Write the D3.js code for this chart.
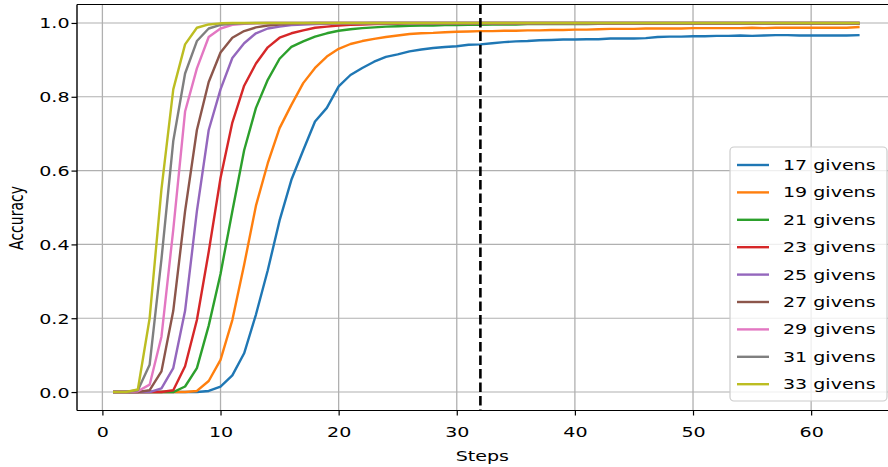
<!DOCTYPE html>
<html>
<head>
<meta charset="utf-8">
<script src="https://cdn.jsdelivr.net/npm/d3@7"></script>
<style>
  html, body { margin: 0; padding: 0; background: #fff; }
  svg { display: block; font-family: "DejaVu Sans", sans-serif; }
</style>
</head>
<body>
<svg id="chart" width="888" height="467"></svg>
<script>
// ---------- data ----------
const steps = d3.range(1, 65);
const seriesNames = ["17 givens", "19 givens", "21 givens", "23 givens", "25 givens",
                     "27 givens", "29 givens", "31 givens", "33 givens"];
const g17 = [0,0,0,0,0,0,0,0,0.003,0.015,0.045,0.105,0.21,0.33,0.465,0.575,0.655,0.733,0.77,0.828,
  0.859,0.878,0.895,0.908,0.915,0.923,0.928,0.932,0.935,0.937,0.941,0.942,0.945,0.948,0.950,0.951,0.953,0.954,0.955,0.955,
  0.956,0.956,0.958,0.958,0.958,0.959,0.962,0.963,0.963,0.964,0.964,0.965,0.965,0.966,0.965,0.966,0.967,0.967,0.966,0.966,
  0.966,0.966,0.966,0.967];
const g19 = [0,0,0,0,0,0,0,0.003,0.03,0.087,0.195,0.345,0.505,0.62,0.715,0.778,0.837,0.878,0.909,0.93,
  0.943,0.951,0.957,0.962,0.966,0.97,0.972,0.973,0.975,0.976,0.977,0.978,0.978,0.979,0.979,0.98,0.98,0.981,0.981,0.982,
  0.982,0.983,0.984,0.984,0.984,0.985,0.985,0.985,0.985,0.986,0.986,0.986,0.986,0.986,0.987,0.986,0.987,0.987,0.987,0.987,
  0.987,0.987,0.987,0.989];
const g21 = [0,0,0,0,0,0,0.015,0.065,0.18,0.32,0.49,0.655,0.77,0.846,0.903,0.935,0.95,0.963,0.972,0.979,
  0.983,0.986,0.988,0.99,0.991,0.992,0.993,0.993,0.994,0.994,0.995,0.995,0.996,0.996,0.996,0.997,0.997,0.997,0.997,0.997,
  0.997,0.998,0.998,0.998,0.998,0.998,0.998,0.998,0.998,0.998,0.998,0.998,0.998,0.998,0.998,0.998,0.998,0.998,0.998,0.998,
  0.998,0.998,0.998,0.998];
const g23 = [0,0,0,0,0,0.005,0.07,0.195,0.38,0.58,0.73,0.83,0.89,0.934,0.96,0.972,0.98,0.987,0.99,0.993,
  0.995,0.996,0.997,0.998,0.998,0.999,0.999,0.999,0.999,0.999,0.999,0.999,0.999,0.999,0.999,0.999,0.999,0.999,0.999,0.999,
  0.999,0.999,0.999,0.999,0.999,0.999,0.999,0.999,0.999,0.999,0.999,0.999,0.999,0.999,0.999,0.999,0.999,0.999,0.999,0.999,
  0.999,0.999,0.999,0.999];
const g25 = [0,0,0,0,0.01,0.065,0.22,0.49,0.71,0.82,0.905,0.945,0.972,0.985,0.99,0.994,0.996,0.997,0.998,0.999,
  0.999,0.999,1,1,1,1,1,1,1,1,1,1,1,1,1,1,1,1,1,1,
  1,1,1,1,1,1,1,1,1,1,1,1,1,1,1,1,1,1,1,1,1,1,1,1];
const g27 = [0,0,0,0.005,0.056,0.22,0.49,0.71,0.84,0.92,0.96,0.978,0.988,0.993,0.996,0.998,0.999,1,1,1,
  1,1,1,1,1,1,1,1,1,1,1,1,1,1,1,1,1,1,1,1,
  1,1,1,1,1,1,1,1,1,1,1,1,1,1,1,1,1,1,1,1,1,1,1,1];
const g29 = [0,0,0.002,0.02,0.15,0.44,0.76,0.877,0.962,0.985,0.995,0.998,0.999,1,1,1,1,1,1,1,
  1,1,1,1,1,1,1,1,1,1,1,1,1,1,1,1,1,1,1,1,
  1,1,1,1,1,1,1,1,1,1,1,1,1,1,1,1,1,1,1,1,1,1,1,1];
const g31 = [0,0,0.005,0.074,0.36,0.68,0.863,0.951,0.985,0.995,0.998,0.999,1,1,1,1,1,1,1,1,
  1,1,1,1,1,1,1,1,1,1,1,1,1,1,1,1,1,1,1,1,
  1,1,1,1,1,1,1,1,1,1,1,1,1,1,1,1,1,1,1,1,1,1,1,1];
const g33 = [0,0,0.007,0.2,0.55,0.82,0.942,0.987,0.996,0.999,1,1,1,1,1,1,1,1,1,1,
  1,1,1,1,1,1,1,1,1,1,1,1,1,1,1,1,1,1,1,1,
  1,1,1,1,1,1,1,1,1,1,1,1,1,1,1,1,1,1,1,1,1,1,1,1];
const seriesValues = [g17, g19, g21, g23, g25, g27, g29, g31, g33];
const colors = ["#1f77b4","#ff7f0e","#2ca02c","#d62728","#9467bd","#8c564b","#e377c2","#7f7f7f","#bcbd22"];
const xTicks = [0, 10, 20, 30, 40, 50, 60];
const yTicks = [0.0, 0.2, 0.4, 0.6, 0.8, 1.0];
const markerStep = 32;
const xLabel = "Steps";
const yLabel = "Accuracy";

// ---------- layout ----------
const SX = 1.36;         // horizontal text stretch of the reference
const FS = 14;
const pL = 77, pR = 895.6, pT = 4.5, pB = 410.5;
const svg = d3.select("#chart");

const x = d3.scaleLinear().domain([-2.15, 67.15]).range([pL, pR]);
const y = d3.scaleLinear().domain([-0.05, 1.05]).range([pB, pT]);

// grid
const grid = svg.append("g");
grid.selectAll(".vg").data(xTicks).enter().append("line")
  .attr("x1", d => x(d)).attr("x2", d => x(d)).attr("y1", pT).attr("y2", pB)
  .attr("stroke", "#b0b0b0").attr("stroke-width", 1.3);
grid.selectAll(".hg").data(yTicks).enter().append("line")
  .attr("x1", pL).attr("x2", pR).attr("y1", d => y(d)).attr("y2", d => y(d))
  .attr("stroke", "#b0b0b0").attr("stroke-width", 1.1);

// lines
const line = d3.line().x((d, i) => x(steps[i])).y(d => y(d));
svg.append("g").selectAll("path").data(seriesValues).enter().append("path")
  .attr("d", d => line(d))
  .attr("fill", "none")
  .attr("stroke", (d, i) => colors[i])
  .attr("stroke-width", 2.4)
  .attr("stroke-linejoin", "round")
  .attr("stroke-linecap", "square");

// dashed vertical line
svg.append("line")
  .attr("x1", x(markerStep)).attr("x2", x(markerStep)).attr("y1", pT).attr("y2", pB)
  .attr("stroke", "#000").attr("stroke-width", 2.6).attr("stroke-dasharray", "9.5,4");

// axes
const xAxis = svg.append("g").attr("transform", `translate(0,${pB})`)
  .call(d3.axisBottom(x).tickValues(xTicks).tickFormat(d3.format("d")).tickSizeOuter(0).tickSize(5));
const yAxis = svg.append("g").attr("transform", `translate(${pL},0)`)
  .call(d3.axisLeft(y).tickValues(yTicks).tickFormat(d3.format(".1f")).tickSizeOuter(0).tickSize(5.5));
[xAxis, yAxis].forEach(a => {
  a.select(".domain").remove();
  a.selectAll(".tick line").attr("stroke", "#000").attr("stroke-width", 1.2);
  a.selectAll("text").attr("fill", "#000").style("font-size", FS + "px")
    .style("font-family", "'DejaVu Sans', sans-serif");
});
xAxis.selectAll("text").attr("y", 0).attr("dy", 0)
  .attr("transform", `translate(0,26.5) scale(${SX},1)`);
yAxis.selectAll("text").attr("x", 0).attr("dy", 0)
  .attr("transform", `translate(-7.5,5) scale(${SX},1)`);

// spines
svg.append("line").attr("x1", pL).attr("x2", pL).attr("y1", pT).attr("y2", pB)
  .attr("stroke", "#000").attr("stroke-width", 1.4);
svg.append("line").attr("x1", pL).attr("x2", pR).attr("y1", pB).attr("y2", pB)
  .attr("stroke", "#000").attr("stroke-width", 1.2);
svg.append("line").attr("x1", pL).attr("x2", pR).attr("y1", pT).attr("y2", pT)
  .attr("stroke", "#000").attr("stroke-width", 1.2);
svg.append("line").attr("x1", pR).attr("x2", pR).attr("y1", pT).attr("y2", pB)
  .attr("stroke", "#000").attr("stroke-width", 1.4);

// axis labels
svg.append("text").text(xLabel)
  .attr("transform", `translate(${(pL + pR) / 2 - 4},461) scale(${SX},1)`)
  .attr("text-anchor", "middle").style("font-size", FS + "px");
svg.append("text").text(yLabel)
  .attr("transform", `translate(23,218) rotate(-90) scale(1,${SX})`)
  .attr("text-anchor", "middle").style("font-size", FS + "px");

// legend
const lg = svg.append("g");
const lgX = 730, lgY = 147, lgW = 157, lgH = 254, rowH = 27.4;
lg.append("rect").attr("x", lgX).attr("y", lgY).attr("width", lgW).attr("height", lgH)
  .attr("rx", 4).attr("fill", "#fff").attr("fill-opacity", 0.8)
  .attr("stroke", "#cccccc").attr("stroke-width", 1.2);
const rows = lg.selectAll(".row").data(seriesNames).enter().append("g")
  .attr("transform", (d, i) => `translate(0,${165 + i * rowH})`);
rows.append("line").attr("x1", 737).attr("x2", 769).attr("y1", 0).attr("y2", 0)
  .attr("stroke", (d, i) => colors[i]).attr("stroke-width", 2.4);
rows.append("text").text(d => d)
  .attr("transform", `translate(783,5) scale(${SX},1)`)
  .style("font-size", FS + "px");
</script>
</body>
</html>
